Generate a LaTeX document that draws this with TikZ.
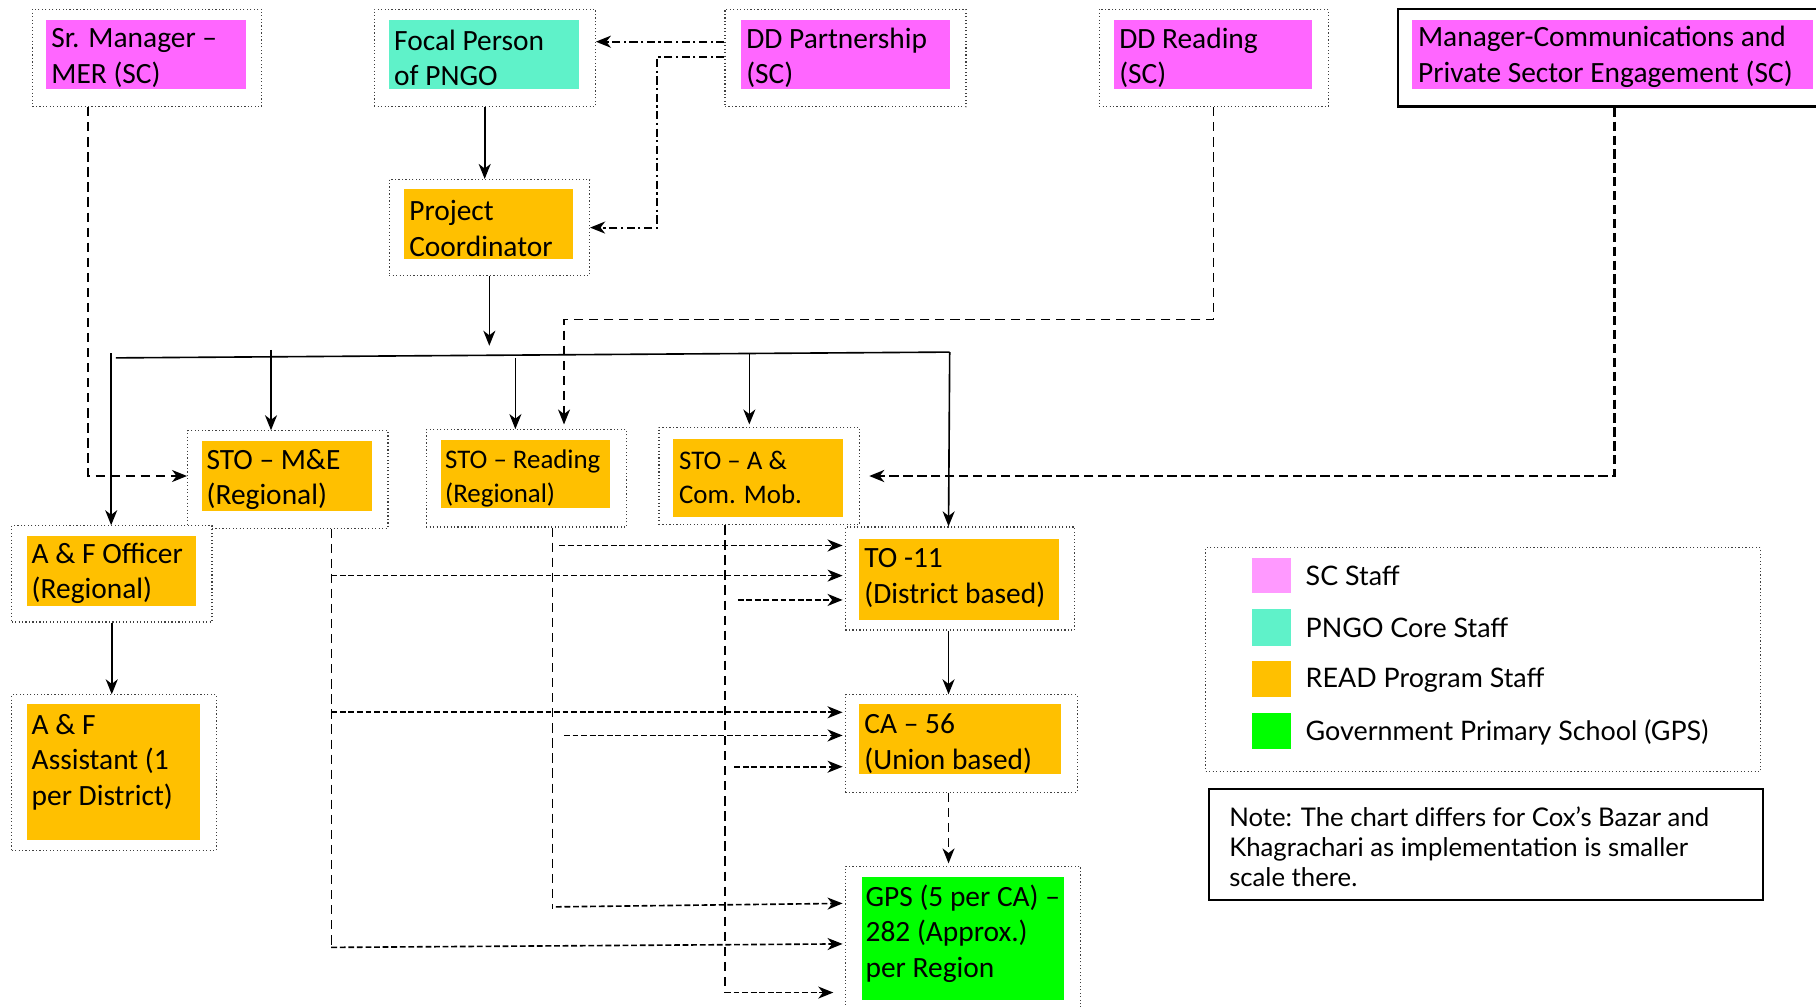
\documentclass[tikz,border=0pt]{standalone}
\usepackage{fontspec}
\setmainfont{Carlito}
\newfontfamily\legfont{Lato}
\usetikzlibrary{arrows.meta,calc,fit}
\definecolor{scpink}{HTML}{FF66FF}
\definecolor{legpink}{HTML}{FF99FF}
\definecolor{pngo}{HTML}{5FF2C9}
\definecolor{readc}{HTML}{FFC000}
\definecolor{gpsc}{HTML}{00FF00}
\begin{document}
\begin{tikzpicture}[x=0.5pt,y=-0.5pt,
  obox/.style={draw=black!75, densely dotted, line width=0.5pt, fill=white, inner sep=0pt},
  fbox/.style={inner sep=0pt, draw=none},
  lbl/.style={anchor=west, align=left, inner sep=0pt, yshift=-1pt, font=\fontsize{12.7}{15.4}\selectfont},
  lblsm/.style={lbl, font=\fontsize{11.6}{14.8}\selectfont},
  arr/.style={-{Stealth[length=6.5pt,width=5.2pt,inset=2pt]}},
  solidc/.style={line width=0.7pt, arr},
  plainc/.style={line width=0.7pt},
  mdash/.style={line width=0.6pt, dash pattern=on 4pt off 2.5pt, arr},
  vdash/.style={line width=0.6pt, dash pattern=on 4pt off 2.5pt},
  hdash/.style={line width=0.7pt, dash pattern=on 2.5pt off 1.2pt, arr},
  bigdash/.style={line width=1.1pt, dash pattern=on 4pt off 2pt, arr},
  ddot/.style={line width=0.8pt, dash pattern=on 3.5pt off 1.5pt on 1pt off 1.5pt, arr},
  leg/.style={anchor=west, inner sep=0pt, font=\legfont\fontsize{11.6}{13}\selectfont},
]
\useasboundingbox (0,0) rectangle (1568,869);
\clip (0,0) rectangle (1568,869);
\fill[white] (0,0) rectangle (1568,869);

% top row
\node[obox, fit={(28,8) (226,92)}] (smO) {};
\node[fbox, fill=scpink, fit={(40,17) (212,77)}] (smF) {};
\node[lbl] (smT) at (44,48) {Sr. Manager \textendash\\MER (SC)};

\node[obox, fit={(323,8) (514,92)}] (fpO) {};
\node[fbox, fill=pngo, fit={(336,17) (500,77)}] (fpF) {};
\node[lbl] (fpT) at (340,48) {Focal Person\\of PNGO};

\node[obox, fit={(626,8) (834,92)}] (ddpO) {};
\node[fbox, fill=scpink, fit={(640,17) (820,77)}] (ddpF) {};
\node[lbl] (ddpT) at (644,48) {DD Partnership\\(SC)};

\node[obox, fit={(949,8) (1147,92)}] (ddrO) {};
\node[fbox, fill=scpink, fit={(962,17) (1133,77)}] (ddrF) {};
\node[lbl] (ddrT) at (966,48) {DD Reading\\(SC)};

\node[draw=black, line width=1pt, fill=white, inner sep=0pt, fit={(1207,8) (1581,92)}] (mcO) {};
\node[fbox, fill=scpink, fit={(1219,17) (1565,77)}] (mcF) {};
\node[lbl] (mcT) at (1224,47) {Manager-Communications and\\Private Sector Engagement (SC)};

% project coordinator
\node[obox, fit={(336,155) (509,238)}] (pcO) {};
\node[fbox, fill=readc, fit={(349,163) (495,224)}] (pcF) {};
\node[lbl] (pcT) at (353,195) {Project\\Coordinator};

% STO row
\node[obox, fit={(162,372) (335,456)}] (stomeO) {};
\node[fbox, fill=readc, fit={(174,381) (321,441)}] (stomeF) {};
\node[lbl] (stomeT) at (178,412) {STO \textendash{} M\&E\\(Regional)};

\node[obox, fit={(368,371) (541,455)}] (storO) {};
\node[fbox, fill=readc, fit={(381,380) (527,439)}] (storF) {};
\node[lblsm] (storT) at (384,411) {STO \textendash{} Reading\\(Regional)};

\node[obox, fit={(569,369) (742,453)}] (stoaO) {};
\node[fbox, fill=readc, fit={(581,379) (728,446)}] (stoaF) {};
\node[lblsm] (stoaT) at (586,410) {STO \textendash{} A \&\\Com. Mob.};

% A & F
\node[obox, fit={(10,454) (183,537)}] (afoO) {};
\node[fbox, fill=readc, fit={(23,463) (169,523)}] (afoF) {};
\node[lbl] (afoT) at (27,493) {A \& F Officer\\(Regional)};

\node[obox, fit={(10,600) (187,734)}] (afaO) {};
\node[fbox, fill=readc, fit={(23,608) (173,725)}] (afaF) {};
\node[lbl] (afaT) at (27,656) {A \& F\\Assistant (1\\per District)};

% right column
\node[obox, fit={(730,455) (928,544)}] (toO) {};
\node[fbox, fill=readc, fit={(742,465) (914,535)}] (toF) {};
\node[lbl] (toT) at (746,497) {TO -11\\(District based)};

\node[obox, fit={(730,600) (930,684)}] (caO) {};
\node[fbox, fill=readc, fit={(742,608) (916,668)}] (caF) {};
\node[lbl] (caT) at (746,640) {CA \textendash{} 56\\(Union based)};

\node[obox, fit={(730,748) (933,880)}] (gpsO) {};
\node[fbox, fill=gpsc, fit={(744,757) (919,863)}] (gpsF) {};
\node[lbl] (gpsT) at (747,804) {GPS (5 per CA) \textendash\\282 (Approx.)\\per Region};

% legend
\node[obox, fit={(1041,473) (1520,666)}] (legO) {};
\node[fbox, fill=legpink, fit={(1081,482) (1115,512)}] (lg1) {};
\node[fbox, fill=pngo, fit={(1081,526) (1115,558)}] (lg2) {};
\node[fbox, fill=readc, fit={(1081,571) (1115,602)}] (lg3) {};
\node[fbox, fill=gpsc, fit={(1081,616) (1115,647)}] (lg4) {};
\node[leg] (lg1t) at (1127,497) {SC Staff};
\node[leg] (lg2t) at (1127,542) {PNGO Core Staff};
\node[leg] (lg3t) at (1127,587) {READ Program Staff};
\node[leg] (lg4t) at (1127,632) {Government Primary School (GPS)};

% note
\node[draw=black, line width=0.7pt, inner sep=0pt, fit={(1044,681) (1522,777)}] (noteO) {};
\node[anchor=west, align=left, inner sep=0pt, font=\legfont\fontsize{11.1}{13}\selectfont] (noteT) at (1061,731)
  {Note: The chart differs for Cox’s Bazar and\\Khagrachari as implementation is smaller\\scale there.};

% connectors top
\draw[solidc] (fpO.south) -- (fpO.south |- pcO.north);
\draw[ddot] ($(ddpO.west)+(0,-14)$) -- ($(fpO.east)+(0,-14)$);
\draw[ddot] ($(ddpO.west)+(0,-1)$) -- ++(-58,0) |- (pcO.east);
\coordinate (pcEnd) at ($(pcO.south)+(0,60)$);
\draw[solidc] (pcO.south) -- (pcEnd);

% bus
\coordinate (busL) at (100,309);
\coordinate (busR) at (820,304);
\draw[plainc] (busL) -- (busR);
\draw[solidc] (96,305) -- (96,0 |- afoO.north);
\draw[solidc] (234,302) -- (234,0 |- stomeO.north);
\draw[solidc] (445,309) -- (445,0 |- storO.north);
\draw[solidc] (647,305) -- ($(647,0 |- stoaO.north)+(0,-2)$);
\draw[solidc] (busR) -- (819,0 |- toO.north);

% dashed from SC staff
\draw[mdash] ($(smO.south)+(-51,0)$) |- ($(stomeO.west)+(0,-3)$);
\draw[mdash] (ddrO.south) |- (487,276) -- ($(487,0 |- storO.north)+(0,-4)$);
\draw[bigdash] (mcO.south) |- ($(stoaO.east)+(8,0)$);

% chain
\draw[solidc] (819,0 |- toO.south) -- (819,0 |- caO.north);
\draw[mdash] (819,0 |- caO.south) -- ($(819,0 |- gpsO.north)+(0,-2)$);
\draw[solidc] (afoO.south) -- (afoO.south |- afaO.north);

% STO M&E feeds
\draw[vdash] (286,0 |- stomeO.south) -- (286,818);
\draw[hdash] (286,497) -- ($(toO.west |- 0,497)+(-2,0)$);
\draw[hdash] (286,615) -- ($(caO.west |- 0,615)+(-2,0)$);
\draw[hdash] (286,818) -- ($(gpsO.west |- 0,815)+(-2,0)$);

% STO Reading feeds
\draw[vdash] (477,0 |- storO.south) -- (477,785);
\draw[hdash] (483,471) -- ($(toO.west |- 0,471)+(-2,0)$);
\draw[hdash] (487,635) -- ($(caO.west |- 0,635)+(-2,0)$);
\draw[hdash] (480,783) -- ($(gpsO.west |- 0,780)+(-2,0)$);

% STO A & Com feeds
\draw[vdash] (626,0 |- stoaO.south) -- (626,857);
\draw[hdash] (637,518) -- ($(toO.west |- 0,518)+(-2,0)$);
\draw[hdash] (634,662) -- ($(caO.west |- 0,662)+(-2,0)$);
\draw[hdash] (626,857) -- ($(gpsO.west |- 0,857)+(-10,0)$);
\end{tikzpicture}
\end{document}
